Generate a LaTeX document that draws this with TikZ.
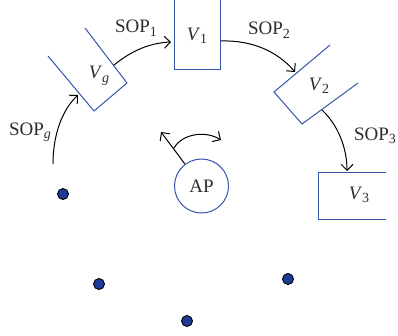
\documentclass[tikz,border=0pt]{standalone}
\usepackage{fontspec}
\setmainfont{Liberation Serif}
\usetikzlibrary{arrows.meta}
\definecolor{boxblue}{RGB}{52,84,170}
\definecolor{dotblue}{RGB}{30,58,150}
\definecolor{txt}{RGB}{45,45,45}
\newcommand{\lowsub}[1]{\raisebox{-3.5pt}{\fontsize{14}{16}\selectfont #1}}
\tikzset{
  vessel/.style={draw=boxblue,line width=1pt,line join=miter},
  lab/.style={text=txt,font=\fontsize{19}{22}\selectfont,inner sep=0pt},
  conn/.style={draw=black,line width=1pt,-{Straight Barb[length=6pt,width=12pt,line width=1pt]}},
  sensor/.style={circle,draw=black,line width=0.9pt,fill=dotblue,minimum size=11pt,inner sep=0pt},
  apnode/.style={circle,draw=boxblue,line width=1pt,minimum size=54pt,inner sep=0pt,text=txt,font=\fontsize{19}{22}\selectfont}
}
\begin{document}
\begin{tikzpicture}[x=1pt,y=-1pt]
\useasboundingbox (0,0) rectangle (398,335);
% vessels
\draw[vessel] (85,28) -- (127,83) -- (94,111) -- (48,56);
\draw[vessel] (174,0) -- (174,69) -- (220,69) -- (220,0);
\draw[vessel] (330,45) -- (274,92) -- (302,124) -- (358,83);
\draw[vessel] (386,172) -- (318,172) -- (318,219) -- (386,219);
% vessel labels
\node[lab] (vg) at (99,76) {\textit{V}\lowsub{\textit{g}}};
\node[lab] (v1) at (197,36) {\textit{V}\lowsub{1}};
\node[lab] (v2) at (319,86) {\textit{V}\lowsub{2}};
\node[lab] (v3) at (359,195) {\textit{V}\lowsub{3}};
% SOP labels
\node[lab] (sg) at (30,132) {SOP\lowsub{\textit{g}}};
\node[lab] (s1) at (136,28) {SOP\lowsub{1}};
\node[lab] (s2) at (269,30) {SOP\lowsub{2}};
\node[lab] (s3) at (375,136) {SOP\lowsub{3}};
% AP and sensors
\node[apnode] (ap) at (201.5,186) {AP};
\node[sensor] (d1) at (63,194) {};
\node[sensor] (d2) at (99,284) {};
\node[sensor] (d3) at (187,321) {};
\node[sensor] (d4) at (288,279) {};
% connector ends
\coordinate (gs) at (53,164);
\coordinate (ge) at (78,95);
\coordinate (as) at (114,65);
\coordinate (ae) at (171,42);
\coordinate (bs) at (221,41);
\coordinate (be) at (295,72);
\coordinate (cs) at (322,110);
\coordinate (ce) at (347,171);
\coordinate (ps) at (174,148);
\coordinate (pe) at (221,140);
\coordinate (rt) at (161,132);
% connectors
\draw[conn] (gs) .. controls (53,135) and (62,110) .. (ge);
\draw[conn] (as) .. controls (130,52) and (148,43) .. (ae);
\draw[conn] (bs) .. controls (253,40) and (278,52) .. (be);
\draw[conn] (cs) .. controls (338,125) and (347,148) .. (ce);
\draw[conn] (ap.127) -- (rt);
\draw[conn] (ps) .. controls (182,134) and (205,130) .. (pe);
\end{tikzpicture}
\end{document}
